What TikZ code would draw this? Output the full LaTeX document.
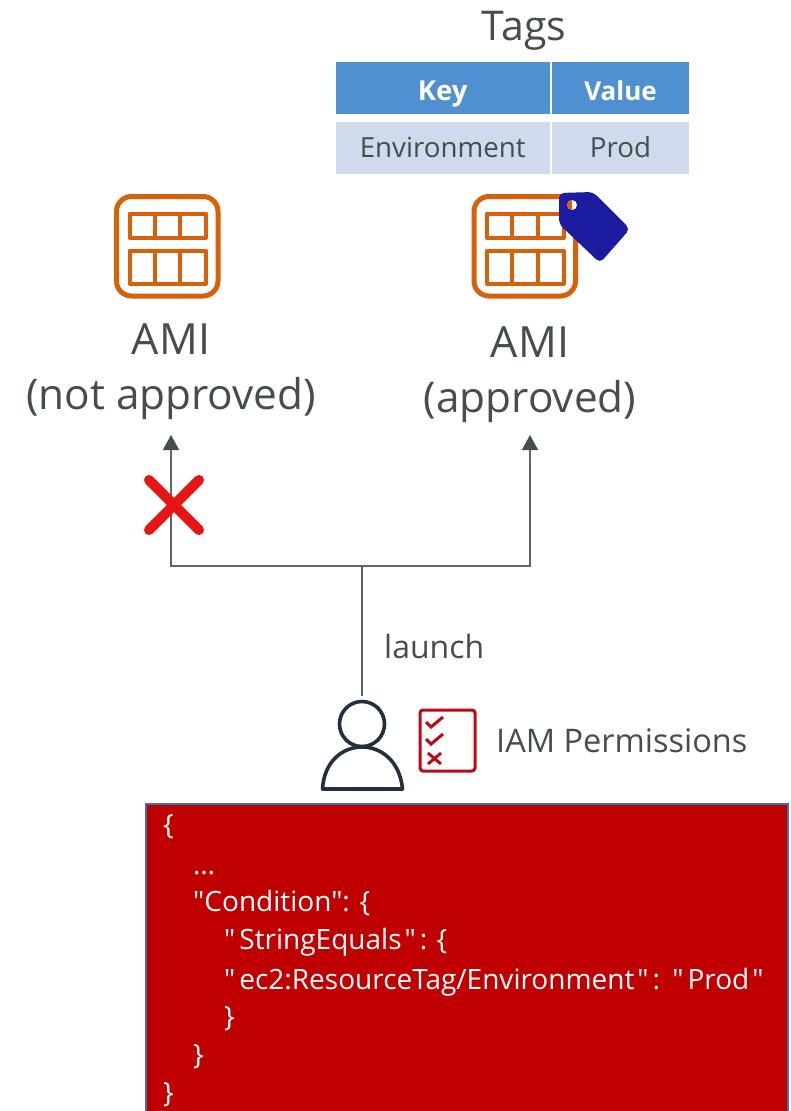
\documentclass[tikz,border=0pt]{standalone}
\usepackage{fontspec}
\setmainfont{Open Sans}
\newfontfamily\jsonfont{Open Sans}
\usetikzlibrary{arrows.meta}
\definecolor{txt}{HTML}{454D4D}
\definecolor{hdr}{HTML}{5090D0}
\definecolor{rowc}{HTML}{CFDAEC}
\definecolor{amic}{HTML}{D86008}
\definecolor{tagc}{HTML}{1C1CA0}
\definecolor{usr}{HTML}{232F3E}
\definecolor{chk}{HTML}{BF0816}
\definecolor{redbox}{HTML}{C00000}
\definecolor{boxedge}{HTML}{41719C}
\definecolor{wire}{HTML}{606565}
\definecolor{crossc}{HTML}{E81414}
\newcommand{\fsz}[1]{\fontsize{#1}{#1}\selectfont}
\newcommand{\qo}{"\kern4pt }
\newcommand{\qc}{\kern3pt"\kern4pt}
\tikzset{
  biglabel/.style={text=txt,inner sep=0pt,anchor=base},
  smalllabel/.style={text=txt,font=\fsz{32},inner sep=0pt,anchor=base west},
  cellh/.style={fill=hdr,text=white,inner sep=0pt,minimum height=52pt,text height=24pt,text depth=0pt},
  cellb/.style={fill=rowc,text=txt,font=\fsz{27.7},inner sep=0pt,minimum height=52pt,text height=18pt,text depth=0pt},
  amiline/.style={draw=amic,line width=4pt,line join=round},
  wireline/.style={draw=wire,line width=1.4pt},
  arrowline/.style={wireline,-{Triangle[length=15pt,width=16pt,color=txt]}},
  json/.style={text=white,font=\jsonfont\fsz{28},inner sep=0pt,anchor=base west},
}
\newcommand{\amiicon}[2]{%
  \begin{scope}[shift={(#1,#2)}]
    \draw[amiline,line width=5pt,rounded corners=15pt] (116.5,196.5) rectangle (218,296);
    \draw[amiline] (129.5,213.5) rectangle (206,238);
    \draw[amiline] (129.5,250.5) rectangle (206,283.5);
    \draw[amiline] (154.5,213.5) -- (154.5,238) (180,213.5) -- (180,238);
    \draw[amiline] (154.5,250.5) -- (154.5,283.5) (180,250.5) -- (180,283.5);
  \end{scope}}
\begin{document}
\begin{tikzpicture}[x=1pt,y=-1pt]
\useasboundingbox (0,0) rectangle (790,1111);
% tags table
\node[biglabel,font=\fsz{41}] (tags) at (524,40) {Tags};
\node[cellh,font=\fsz{27.5}\bfseries,minimum width=213.5pt] (key) at (442.75,88) {Key};
\node[cellh,font=\fsz{26}\bfseries,minimum width=137pt] (value) at (620.5,88) {Value};
\node[cellb,minimum width=213.5pt] (env) at (442.75,148) {Environment};
\node[cellb,minimum width=137pt] (prod) at (620.5,148) {Prod};
% icons
\amiicon{0}{0}
\amiicon{357.5}{0}
\fill[tagc,rounded corners=5pt] (559,193) -- (593,192) -- (630,229) -- (600,263) -- (559,224) -- cycle;
\fill[white] (572,205) circle (5pt);
\fill[amic] (572,200) arc (-90:90:-5pt) -- cycle;
% labels
\node[biglabel,font=\fsz{43}] (notA) at (171,354) {AMI};
\node[biglabel,font=\fsz{42.3}] (notB) at (171,409) {(not approved)};
\node[biglabel,font=\fsz{43}] (appA) at (530,357) {AMI};
\node[biglabel,font=\fsz{42.3}] (appB) at (530,412) {(approved)};
\node[smalllabel] (launch) at (384,658) {launch};
\node[smalllabel,font=\fsz{32.5}] (perm) at (496,752) {IAM Permissions};
% user
\node[circle,draw=usr,line width=3.6pt,minimum size=45pt,inner sep=0pt] (head) at (362,724) {};
\draw[usr,line width=3.6pt,line join=round] (322.5,789) .. controls (324,762) and (342,747) .. (362,747) .. controls (382,747) and (400,762) .. (402.5,789) -- cycle;
% connectors
\coordinate (tipL) at (171,435);
\coordinate (tipR) at (530,435);
\coordinate (junction) at (362,566);
\coordinate (userTop) at (362,696);
\draw[wireline] (userTop) -- (junction);
\draw[arrowline] (junction) -| (tipL);
\draw[arrowline] (junction) -| (tipR);
% cross
\draw[crossc,line width=10pt,line cap=round] (149,480) -- (199,530) (199,480) -- (149,530);
% checklist
\draw[chk,line width=3pt,rounded corners=3pt] (420,710) rectangle (475,771);
\draw[chk,line width=3pt,line join=miter] (426,722) -- (431,727) -- (443,717);
\draw[chk,line width=3pt,line join=miter] (426,739) -- (431,744) -- (443,734);
\draw[chk,line width=3pt] (428,753) -- (441,764) (441,753) -- (428,764);
% policy box
\node[draw=boxedge,fill=redbox,line width=2.4pt,minimum width=642pt,minimum height=320pt,inner sep=0pt,anchor=north west] (policy) at (145,803) {};
\node[json] (j1) at (163,834) {\{};
\node[json] (j2) at (193,874) {…};
\node[json] (j3) at (193,911) {"Condition": \{};
\node[json] (j4) at (224,949) {\qo StringEquals\qc:\kern2pt\ \{};
\node[json] (j5) at (224,989) {\qo ec2:ResourceTag/Environment\qc:\kern5pt\ \qo Prod\kern3pt"};
\node[json] (j6) at (224,1026) {\}};
\node[json] (j7) at (193,1064) {\}};
\node[json] (j8) at (163,1102) {\}};
\end{tikzpicture}
\end{document}
